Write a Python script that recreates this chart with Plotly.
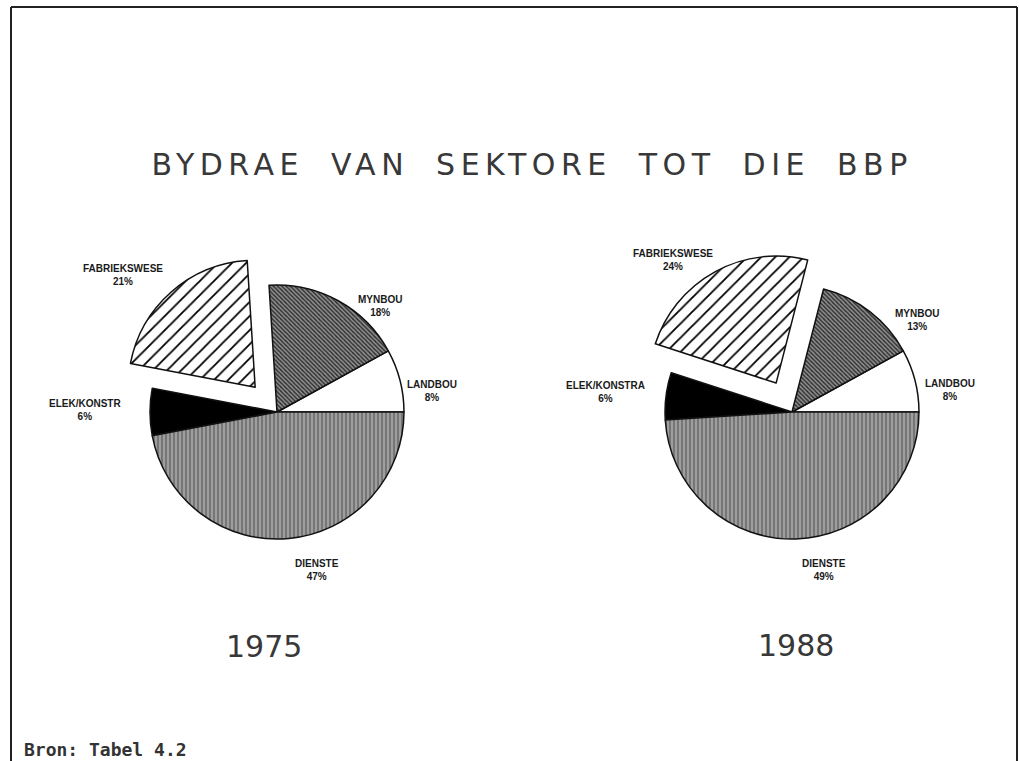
import plotly.graph_objects as go

# ---- data ----
sectors = ["LANDBOU", "MYNBOU", "FABRIEKSWESE", "ELEK/KONSTR", "DIENSTE"]
sectors_1988 = ["LANDBOU", "MYNBOU", "FABRIEKSWESE", "ELEK/KONSTRA", "DIENSTE"]
share_1975 = [8, 18, 21, 6, 47]
share_1988 = [8, 13, 24, 6, 49]
pull_1975 = [0, 0, 0.26, 0, 0]
pull_1988 = [0, 0, 0.26, 0, 0]
years = ["1975", "1988"]

title_text = "BYDRAE VAN SEKTORE TOT DIE BBP"
source_text = "Bron: Tabel 4.2"

# ---- styling ----
W, H = 1019, 761
base_colors = ["white", "#8a8a8a", "white", "black", "#939393"]
pat_shape = ["", "\\", "/", "", "|"]
pat_fg = ["white", "#2a2a2a", "black", "black", "#6c6c6c"]
pat_bg = ["white", "#8f8f8f", "white", "black", "#9e9e9e"]
pat_size = [8, 3, 10, 8, 4]
pat_solid = [0.3, 0.45, 0.18, 0.3, 0.4]


def pie(labels, values, pulls, cx, cy, rdom):
    # slice order runs counterclockwise from 3 o'clock
    first_angle = 360.0 * values[0] / sum(values)
    return go.Pie(
        labels=labels,
        values=values,
        pull=pulls,
        sort=False,
        direction="counterclockwise",
        rotation=90 - first_angle,
        textinfo="none",
        hoverinfo="label+percent",
        showlegend=False,
        marker=dict(
            colors=base_colors,
            line=dict(color="#111111", width=1.5),
            pattern=dict(shape=pat_shape, fgcolor=pat_fg, bgcolor=pat_bg,
                         size=pat_size, solidity=pat_solid, fillmode="replace"),
        ),
        domain=dict(x=[(cx - rdom) / W, (cx + rdom) / W],
                    y=[(H - cy - rdom) / H, (H - cy + rdom) / H]),
    )


fig = go.Figure()
fig.add_trace(pie(sectors, share_1975, pull_1975, 277, 412, 160))
fig.add_trace(pie(sectors_1988, share_1988, pull_1988, 792, 412, 160))

annotations = []
label_font = dict(family="Liberation Sans, Arial, sans-serif", size=10, color="#1a1a1a", weight="bold")
label_pos_1975 = [(432, 391), (380, 306), (123, 275), (85, 410), (317, 570)]
label_pos_1988 = [(950, 390), (917, 320), (673, 260), (605, 392), (824, 570)]
for labs, vals, poss in [(sectors, share_1975, label_pos_1975), (sectors_1988, share_1988, label_pos_1988)]:
    for lab, v, (x, y) in zip(labs, vals, poss):
        annotations.append(dict(
            x=x / W, y=1 - y / H, xref="paper", yref="paper",
            text=f"{lab}<br>{v}%", showarrow=False, font=label_font,
            xanchor="center", yanchor="middle", align="center"))

big_font = dict(family="DejaVu Sans, sans-serif", size=30, color="#383838")
# title
annotations.append(dict(x=532 / W, y=1 - 165 / H, xref="paper", yref="paper",
                        text=title_text, showarrow=False, xanchor="center", yanchor="middle",
                        font=big_font))
# year labels
for yr, (x, y) in zip(years, [(264, 646), (796, 645)]):
    annotations.append(dict(x=x / W, y=1 - y / H, xref="paper", yref="paper",
                            text=yr, showarrow=False, xanchor="center", yanchor="middle",
                            font=big_font))
# source
annotations.append(dict(x=22 / W, y=1 - 749 / H, xref="paper", yref="paper",
                        text=source_text, showarrow=False, xanchor="left", yanchor="middle",
                        font=dict(family="DejaVu Sans Mono, Liberation Mono, monospace", size=18,
                                  color="#333333", weight="bold")))

frame = dict(color="#222222", width=2)
shapes = [
    dict(type="line", xref="paper", yref="paper", x0=11 / W, x1=1017 / W, y0=1 - 7 / H, y1=1 - 7 / H, line=frame),
    dict(type="line", xref="paper", yref="paper", x0=11 / W, x1=11 / W, y0=1 - 7 / H, y1=0, line=frame),
    dict(type="line", xref="paper", yref="paper", x0=1017 / W, x1=1017 / W, y0=1 - 7 / H, y1=0, line=frame),
]

fig.update_layout(
    width=W, height=H,
    margin=dict(l=0, r=0, t=0, b=0),
    paper_bgcolor="white", plot_bgcolor="white",
    annotations=annotations, shapes=shapes,
)

post = """
document.body.style.margin = '0';
document.querySelectorAll('.annotation-text').forEach(function(t){
  if (t.textContent.indexOf('BYDRAE') === 0) {
    t.style.letterSpacing = '5.5px';
    t.style.wordSpacing = '12px';
  }
});
"""
fig.write_html("out.html", post_script=post, config={"displayModeBar": False})
